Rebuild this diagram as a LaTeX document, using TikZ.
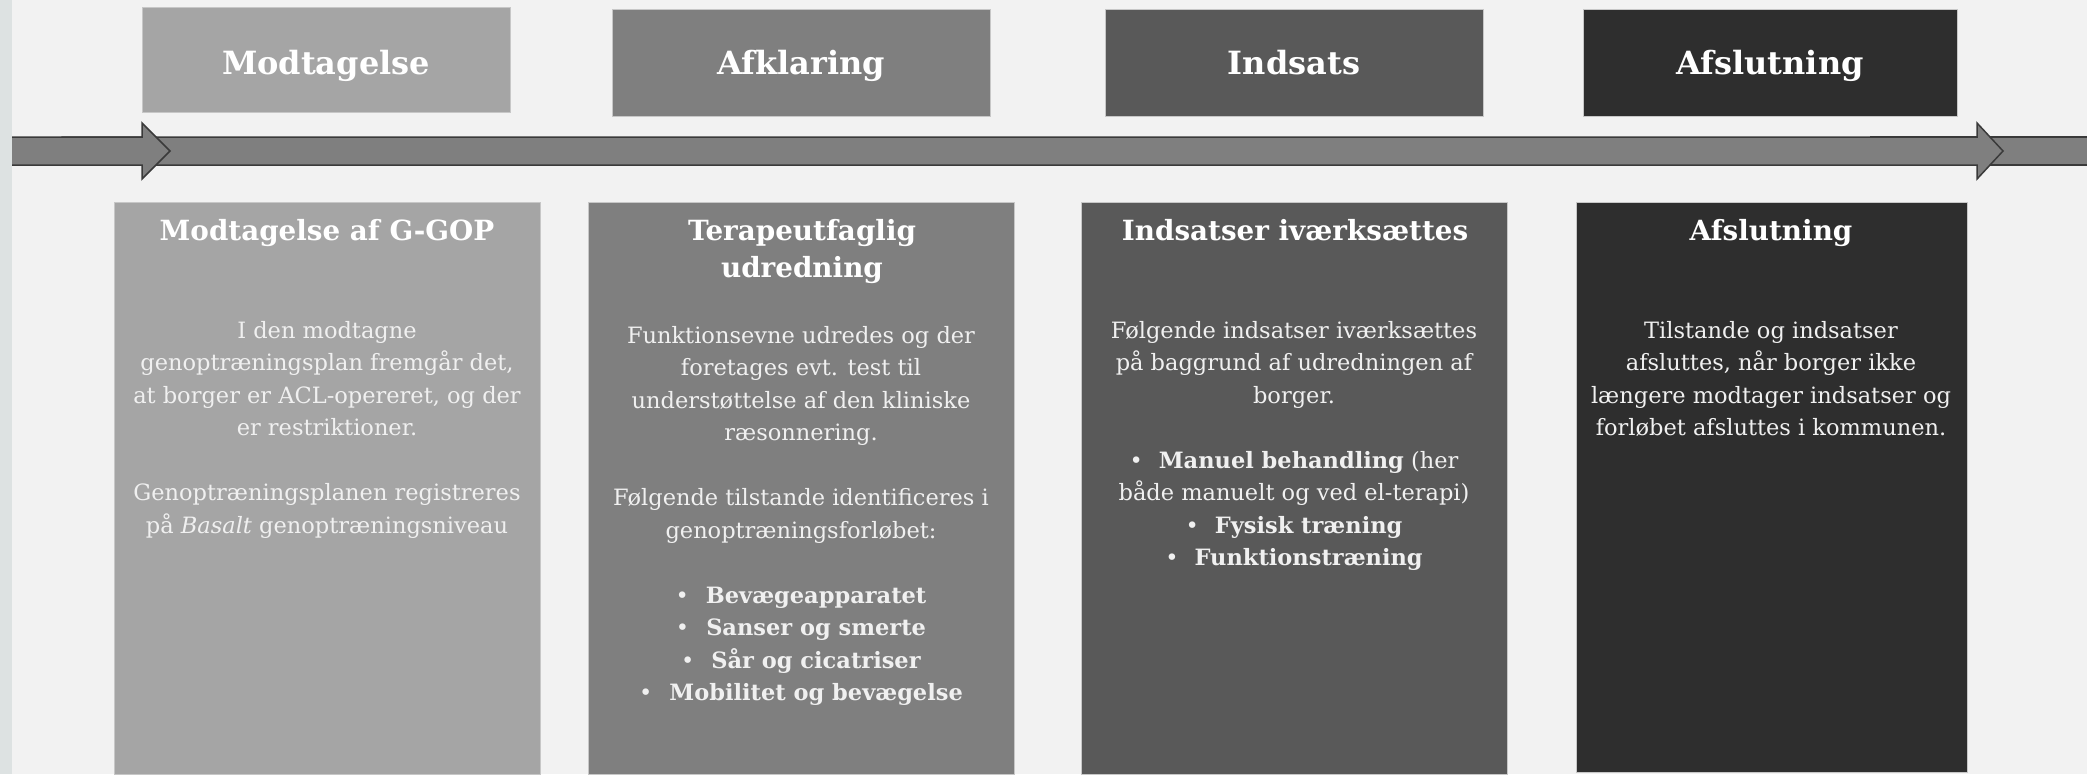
\documentclass[tikz,border=0pt]{standalone}
\usepackage{fontspec}
\setmainfont{DejaVu Serif}

\definecolor{bg}{HTML}{F2F2F2}
\definecolor{kant}{HTML}{DDE2E2}
\definecolor{faseA}{HTML}{A5A5A5}
\definecolor{faseB}{HTML}{7F7F7F}
\definecolor{faseC}{HTML}{595959}
\definecolor{faseD}{HTML}{2E2E2E}
\definecolor{pil}{HTML}{7F7F7F}
\definecolor{pilkant}{HTML}{3A3A3A}
\definecolor{tekst}{HTML}{F0F0F0}

\newcommand{\forste}[1]{\rule{0pt}{#1}}

\tikzset{
  fase/.style={draw=black!22, line width=0.8pt, inner sep=0pt},
  fasenavn/.style={anchor=base, text=white, font=\fontsize{32}{38}\selectfont\bfseries},
  trin/.style={draw=black!22, line width=0.8pt, inner sep=0pt, anchor=north},
  overskrift/.style={anchor=north, yshift=25pt, inner sep=0pt, align=center,
    text=white, font=\fontsize{27.8}{37}\selectfont\bfseries},
  brodtekst/.style={anchor=north, yshift=23pt, inner sep=0pt, align=center,
    text=tekst, font=\fontsize{22.5}{32.5}\selectfont},
  pilform/.style={fill=pil, draw=pilkant, line width=1.5pt, line join=miter}
}

\begin{document}
\begin{tikzpicture}[x=1pt,y=-1pt]
    \fill[bg] (0,0) rectangle (2087,774);
    \useasboundingbox (0,0) rectangle (2087,774);
    % timeline
    \fill[pil] (1870,137) rectangle (2087,165);
    \draw[pilkant, line width=1.5pt] (1870,137) -- (2087,137) (1870,165) -- (2087,165);
    \draw[pilform] (62,137) -- (1977,137) -- (1977,123) -- (2003,151)
      -- (1977,179) -- (1977,165) -- (62,165) -- cycle;
    \draw[pilform] (0,137) -- (142,137) -- (142,123) -- (170,151)
      -- (142,179) -- (142,165) -- (0,165) -- cycle;
    \fill[kant] (0,0) rectangle (12,774);
    % phases
    \foreach \i/\x/\y/\w/\h/\farve/\navn in {1/326/59.5/368/105/faseA/Modtagelse,
        2/801/62.5/378/107/faseB/Afklaring, 3/1294/62.5/378/107/faseC/Indsats,
        4/1770/62.5/374/107/faseD/Afslutning} {
      \node[fase, fill=\farve, minimum width=\w pt, minimum height=\h pt] (fase\i) at (\x,\y) {};
      \node[fasenavn] (navn\i) at (\x,74) {\navn};
    }
    % columns
    \foreach \i/\x/\w/\h/\farve in {1/327/426/572/faseA, 2/801/426/572/faseB,
        3/1294/426/572/faseC, 4/1771.5/391/570/faseD} {
      \node[trin, fill=\farve, minimum width=\w pt, minimum height=\h pt] (trin\i) at (\x,202) {};
    }
    % titles
    \node[overskrift] (titel1) at (327,240) {\forste{25pt}Modtagelse af G-GOP};
    \node[overskrift] (titel2) at (802,240) {\forste{25pt}Terapeutfaglig\\udredning};
    \node[overskrift] (titel3) at (1295,240) {\forste{25pt}Indsatser iværksættes};
    \node[overskrift] (titel4) at (1771,240) {\forste{25pt}Afslutning};
    % texts
    \node[brodtekst] (tekst1) at (327,338) {\forste{23pt}I den modtagne\\
      genoptræningsplan fremgår det,\\ at borger er ACL-opereret, og der\\
      er restriktioner.\\[32.5pt] Genoptræningsplanen registreres\\
      på \textit{Basalt} genoptræningsniveau};
    \node[brodtekst] (tekst2) at (801,343) {\forste{23pt}Funktionsevne udredes og der\\
      foretages evt. test til\\ understøttelse af den kliniske\\ ræsonnering.\\[32.5pt]
      Følgende tilstande identificeres i\\ genoptræningsforløbet:\\[32.5pt]
      \textbullet\hspace{17pt}\textbf{Bevægeapparatet}\\
      \textbullet\hspace{17pt}\textbf{Sanser og smerte}\\
      \textbullet\hspace{17pt}\textbf{Sår og cicatriser}\\
      \textbullet\hspace{17pt}\textbf{Mobilitet og bevægelse}};
    \node[brodtekst] (tekst3) at (1294,338) {\forste{23pt}Følgende indsatser iværksættes\\
      på baggrund af udredningen af\\ borger.\\[32.5pt]
      \textbullet\hspace{16pt}\textbf{Manuel behandling} (her\\
      både manuelt og ved el-terapi)\\
      \textbullet\hspace{16pt}\textbf{Fysisk træning}\\
      \textbullet\hspace{16pt}\textbf{Funktionstræning}};
    \node[brodtekst] (tekst4) at (1771,338) {\forste{23pt}Tilstande og indsatser\\
      afsluttes, når borger ikke\\ længere modtager indsatser og\\
      forløbet afsluttes i kommunen.};
\end{tikzpicture}
\end{document}
